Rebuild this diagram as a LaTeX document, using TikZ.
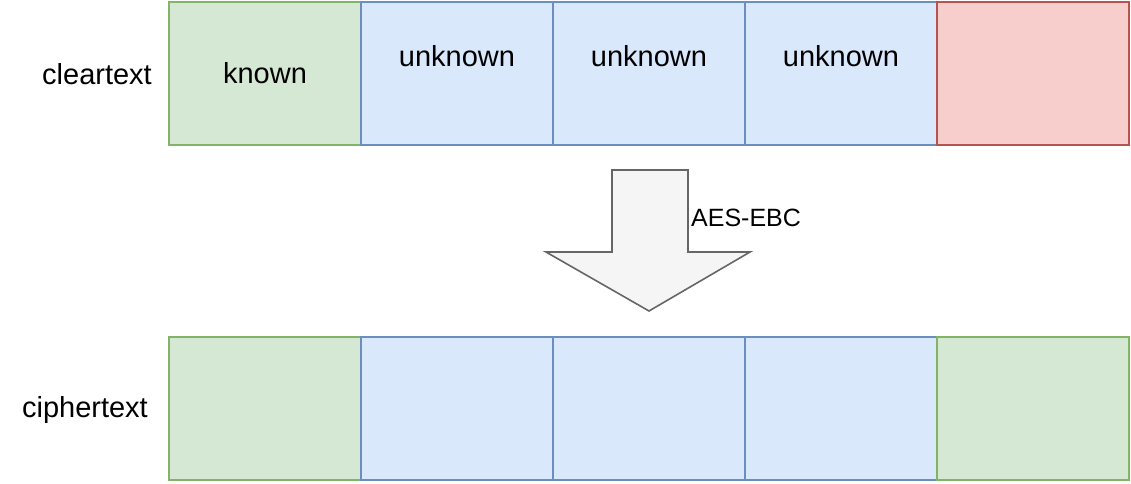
\documentclass[tikz,border=0pt]{standalone}
\usepackage{fontspec}
\setmainfont{Liberation Sans}
\usetikzlibrary{positioning, calc}
\definecolor{greenfill}{HTML}{D5E8D4}
\definecolor{greenline}{HTML}{82B366}
\definecolor{bluefill}{HTML}{DAE8FC}
\definecolor{blueline}{HTML}{6C8EBF}
\definecolor{redfill}{HTML}{F8CECC}
\definecolor{redline}{HTML}{B85450}
\definecolor{arrowfill}{HTML}{F5F5F5}
\definecolor{arrowline}{HTML}{666666}
\tikzset{
  block/.style={draw, line width=1.5pt, minimum width=192pt, minimum height=143pt, inner sep=0pt, outer sep=0pt},
  knownblock/.style={block, fill=greenfill, draw=greenline},
  unknownblock/.style={block, fill=bluefill, draw=blueline},
  padblock/.style={block, fill=redfill, draw=redline},
  txt/.style={font=\fontsize{29}{34}\selectfont, inner sep=0pt}
}
\begin{document}
\begin{tikzpicture}[x=1pt, y=-1pt]
        \useasboundingbox (0,0) rectangle (1131,483);
        %riga in chiaro
        \node[knownblock] (clear1) at (265,73.5) {};
        \node[txt] (known) at (clear1.center) {known};
        \foreach \i/\j in {2/1,3/2,4/3}{
          \node[unknownblock, right=0pt of clear\j] (clear\i) {};
          \node[txt] (unk\i) at ($(clear\i.center)+(0,-17)$) {unknown};
        }
        \node[padblock, right=0pt of clear4] (clear5) {};
        \node[txt, anchor=east] (cleartext) at (152,74) {cleartext};
        %riga cifrata
        \node[knownblock] (cipher1) at (265,408.5) {};
        \foreach \i/\j in {2/1,3/2,4/3}{
          \node[unknownblock, right=0pt of cipher\j] (cipher\i) {};
        }
        \node[knownblock, right=0pt of cipher4] (cipher5) {};
        \node[txt, anchor=east] (ciphertext) at (148,410) {ciphertext};
        %freccia
        \draw[line width=1.6pt, draw=arrowline, fill=arrowfill, line join=miter]
          (612,170) -- (688,170) -- (688,252) -- (750,252) -- (649,311)
          -- (546,252) -- (612,252) -- cycle;
        \node[txt, font=\fontsize{25}{30}\selectfont, anchor=west] (aes) at (691,218) {AES-EBC};
    \end{tikzpicture}
\end{document}
